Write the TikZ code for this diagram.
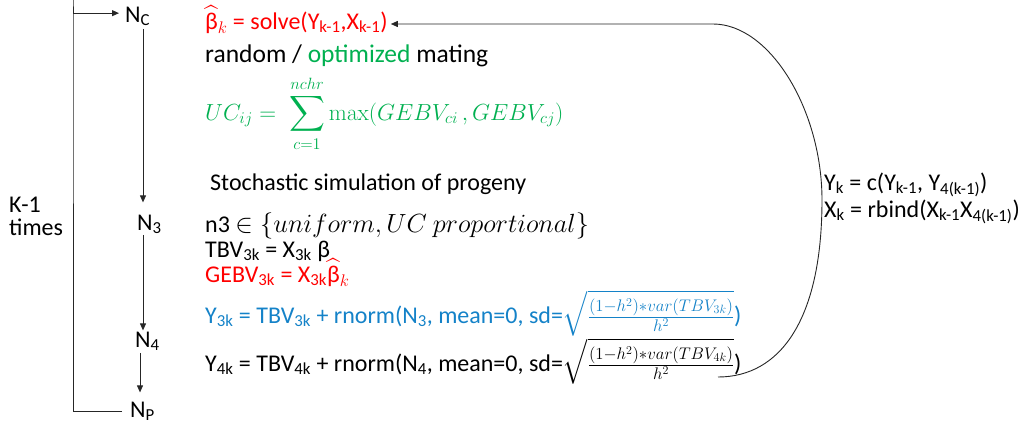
\RequirePackage{fix-cm}
\documentclass[tikz,border=0pt]{standalone}
\usepackage{amsmath}
\usepackage[no-math]{fontspec}
\setmainfont{Carlito}
\usetikzlibrary{arrows.meta}
\definecolor{pred}{RGB}{255,0,0}
\definecolor{pgreen}{RGB}{0,176,80}
\definecolor{pblue}{RGB}{20,130,200}
\newcommand\sbs[1]{\textsubscript{#1}}
\newcommand\bhat{\ensuremath{\widehat{\mbox{β}}_k}}
\begin{document}
\begin{tikzpicture}[x=1pt,y=-1pt,
  txt/.style={anchor=base west, inner sep=0pt, font=\fontsize{24}{29}\selectfont},
  conn/.style={draw=black!85, line width=0.9pt},
  arr/.style={conn, -{Triangle[length=7pt,width=6pt]}}]
\useasboundingbox (0,0) rectangle (1021,423);
% left column of stages
\node[txt] (nc) at (125,22) {N\sbs{C}};
\node[txt] (n3) at (137,230) {N\sbs{3}};
\node[txt] (n4) at (135,347) {N\sbs{4}};
\node[txt] (np) at (130,417) {N\sbs{P}};
\node[txt, align=left, font=\fontsize{24}{23}\selectfont] (kt) at (9,235) {K-1\\times};
\coordinate (ax) at (143,0);
\coordinate (bx) at (140,0);
\coordinate (lx) at (73,0);
\draw[arr] (nc.south -| ax) ++(0,3) -- ([yshift=12pt]n3.north -| ax);
\draw[arr] (n3.south -| ax) ++(0,1) -- ([yshift=1pt]n4.north -| ax);
\draw[arr] (n4.south -| bx) ++(0,2) -- ([yshift=9pt]np.north -| bx);
\draw[arr] ([xshift=-8pt]np.west) -| (lx) |- ([xshift=-6pt,yshift=3pt]nc.west);
% formulas
\node[txt, text=pred] (beta) at (205,29) {\bhat{} = solve(Y\sbs{k-1},X\sbs{k-1})};
\node[txt, font=\fontsize{25.5}{30}\selectfont] (mate) at (205,62) {random / \textcolor{pgreen}{optimized} mating};
\node[txt, text=pgreen, font=\fontsize{23.3}{27}\selectfont] (uc) at (205,120) {$\displaystyle UC_{ij} = \;\sum_{c=1}^{nchr}\max(GEBV_{ci}\,, GEBV_{cj})$};
\node[txt] (sto) at (210,190) {Stochastic simulation of progeny};
\node[txt] (n3d) at (205,232) {n3 \fontsize{26.3}{30}\selectfont$\in \{uniform, UC\ proportional\}$};
\node[txt] (tbv) at (205,257) {TBV\sbs{3k} = X\sbs{3k} β};
\node[txt, text=pred] (gebv) at (205,282) {GEBV\sbs{3k} = X\sbs{3k}\bhat};
\node[txt, text=pblue] (y3) at (205,323) {Y\sbs{3k} = TBV\sbs{3k} + rnorm(N\sbs{3}, mean=0, sd=$\sqrt{\frac{(1-h^2)* var(TBV_{3k})}{h^2}}$)};
\node[txt] (y4) at (205,371) {Y\sbs{4k} = TBV\sbs{4k} + rnorm(N\sbs{4}, mean=0, sd=$\sqrt{\frac{(1-h^2)* var(TBV_{4k})}{h^2}}$)};
\node[txt] (yk) at (824,190) {Y\sbs{k} = c(Y\sbs{k-1}, Y\sbs{4(k-1)})};
\node[txt] (xk) at (824,217) {X\sbs{k} = rbind(X\sbs{k-1}X\sbs{4(k-1)})};
% feedback curve
\coordinate (cs) at (718,377);
\coordinate (cm) at (822,200);
\coordinate (ct) at (713,24);
\draw[arr] (cs) .. controls (780,377) and (822,320) .. (cm)
  .. controls (822,110) and (770,24) .. (ct) -- ([xshift=3pt]beta.east |- ct);
\end{tikzpicture}
\end{document}
